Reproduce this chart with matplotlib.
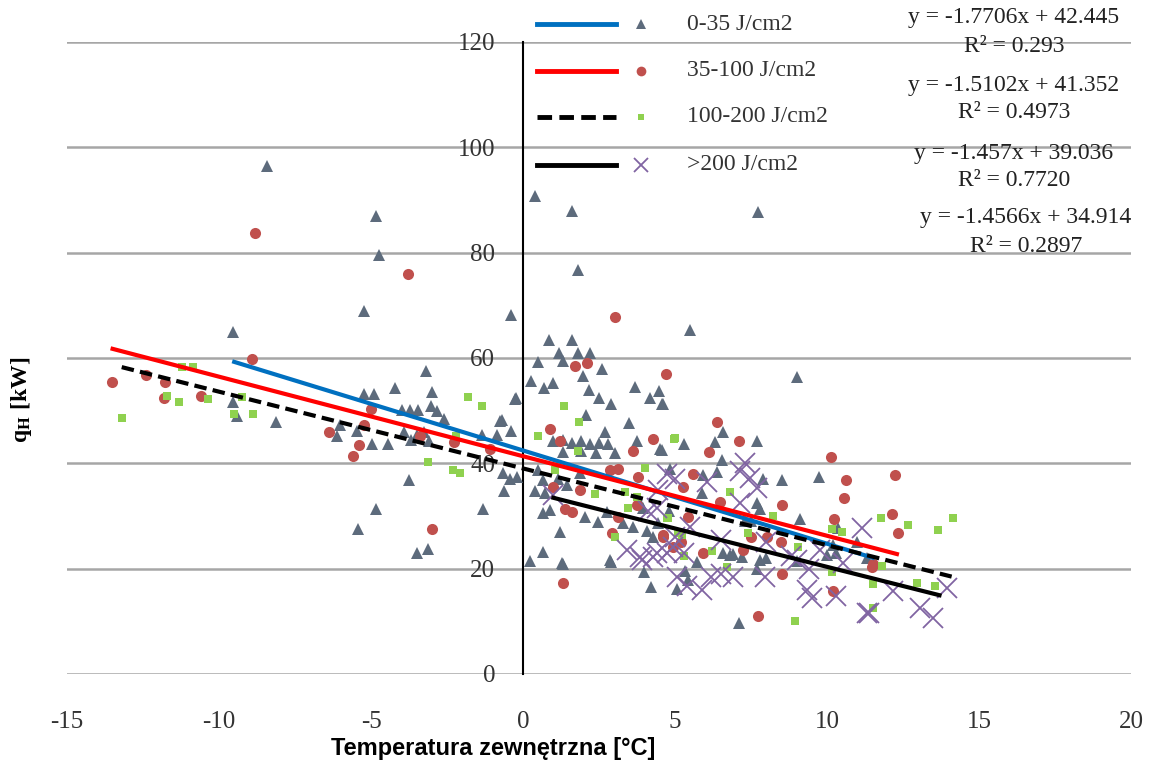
import numpy as np
import matplotlib.pyplot as plt
from matplotlib.lines import Line2D

plt.rcParams['mathtext.fontset'] = 'stix'
plt.rcParams['axes.unicode_minus'] = False

# 0-35 J/cm2 (triangles)
t1_x = [-8.43, -4.84, -4.73, -5.23, -0.40, -9.53, -3.19, -4.21, -3.0, -0.26, -5.23, -4.9, -9.53, -3.04,
        -2.84, -2.6, -3.99, -3.72, -3.44, -9.42, -8.13, -0.70, -0.40, -0.87, -1.36, -6.02, -6.11, -5.47,
        -4.98, -4.43, -3.9, -3.7, -3.5, -3.25, -3.08, -3.74, -0.65, -0.43, -0.19, -0.63, -1.33, -4.84,
        -5.42, -3.5, -3.12, -0.76,
        0.39, 1.6, 7.74, 1.82, 5.49, 0.87, 1.6, 1.19, 1.82, 2.2, 0.5, 1.3, 1.98, 2.59, 0.25, 0.69, 1.0,
        2.18, 3.68, 4.48, -0.23, 9.0,
        2.5, 2.88, 4.18, 4.56, 2.07, 3.5, 2.7, 1.0, 1.3, 1.6, 1.9, 2.2, 2.5, 2.8, 3.74, 4.5, 3.03, 1.3,
        1.9, 2.4, 0.5, 0.67, 1.16, 1.44, 1.88, 0.39, 0.72, 0.67, 0.89, 2.04, 2.48, 2.75, 1.22, 0.67,
        1.27, 0.23, 2.86, 4.07, 4.29, 3.85, 3.96, 3.3, 3.63, 4.45, 4.84,
        1.3, 2.89, 3.98, 4.2, 5.08, 5.33, 5.44, 5.73,
        7.12, 7.8, 6.59, 6.81, 7.69,
        6.59, 6.32, 7.69, 5.3, 4.56, 6.54, 8.51, 9.75, 5.93, 6.37, 7.9, 7.69, 7.8, 5.9, 9.1, 10.0, 10.3,
        7.3, 7.5, 6.9, 7.2, 8.0, 9.0, 4.8, 4.6,
        10.36, 10.2, 11.0, 11.3]
t1_y = [96.4, 87.0, 79.6, 68.9, 68.2, 65.0, 57.5, 54.3, 53.6, 52.2, 53.1, 53.1, 51.6, 50.9,
        49.9, 48.4, 50.2, 50.2, 50.2, 48.9, 47.8, 48.2, 46.2, 45.3, 45.3, 47.2, 45.1, 46.2,
        43.7, 43.6, 46.0, 44.5, 45.4, 46.0, 44.3, 36.9, 38.1, 37.1, 37.4, 34.8, 31.4, 31.4,
        27.5, 23.0, 23.7, 48.1,
        90.7, 87.9, 87.7, 76.7, 65.4, 63.5, 63.5, 61.0, 61.0, 61.0, 59.3, 59.4, 56.6, 57.9, 55.7, 54.3, 55.3,
        53.9, 54.4, 53.8, 52.5, 56.4,
        52.5, 51.3, 52.4, 51.3, 49.2, 47.6, 45.9, 44.2, 44.5, 43.8, 44.2, 43.6, 43.8, 43.6, 44.3, 42.8, 42.0, 42.2,
        42.3, 41.9, 38.7, 36.8, 37.1, 35.8, 38.1, 34.7, 34.3, 30.5, 31.1, 29.9, 28.9, 30.8, 27.0, 23.1,
        21.1, 21.4, 21.7, 27.2, 26.1, 32.5, 31.6, 28.6, 28.0, 28.6, 39.0,
        20.8, 21.2, 19.3, 16.5, 16.2, 19.5, 17.9, 21.2,
        9.7, 21.7, 22.9, 22.6, 20.0,
        45.9, 44.0, 44.3, 43.6, 42.5, 40.6, 36.8, 37.4, 37.7, 38.4, 37.0, 32.4, 31.4, 34.3, 29.5, 22.6, 23.0,
        29.0, 29.0, 22.7, 22.3, 22.0, 21.5, 31.0, 51.3,
        27.7, 24.5, 25.0, 22.0]

# 35-100 J/cm2 (circles)
t2_x = [-8.82, -3.79, -8.93, -13.53, -12.4, -11.78, -11.81, -10.59, -5.01, -6.37, -5.23, -5.38, -5.6,
        -3.39, -2.27, -1.09, -3.0,
        3.03, 1.71, 2.1, 4.69,
        0.89, 1.22, 4.29, 3.63, 3.14, 2.86, 1.88, 1.38, 1.6, 1.0, 3.14, 3.79, 3.74, 2.92, 4.62, 4.95,
        1.3, 7.72, 8.51, 10.2, 5.93, 11.47,
        10.13, 10.62, 10.56, 12.24, 12.13, 12.32, 10.23, 11.52,
        6.39, 7.12, 6.13, 5.6, 5.27, 8.51, 6.48, 5.44, 8.02, 7.5, 8.5, 7.25, 4.61, 5.2]
t2_y = [83.8, 75.9, 59.8, 55.5, 56.8, 55.5, 52.5, 52.8, 50.3, 46.0, 47.2, 43.4, 41.3,
        45.1, 44.0, 42.8, 27.5,
        67.7, 58.5, 59.0, 56.9,
        46.5, 44.3, 44.6, 42.3, 39.0, 38.7, 34.9, 31.4, 30.8, 35.5, 29.9, 37.4, 32.1, 26.7, 26.1, 24.2,
        17.3, 11.0, 18.9, 15.7, 22.9, 20.4,
        41.2, 36.9, 33.5, 37.7, 30.3, 26.7, 29.4, 20.8,
        47.8, 44.2, 42.1, 37.9, 35.5, 32.1, 32.7, 29.9, 26.1, 26.0, 25.0, 23.6, 26.4, 25.0]

# 100-200 J/cm2 (squares)
t3_x = [-13.2, -11.23, -10.87, -11.7, -11.31, -10.35, -9.25, -9.5, -8.89, -1.8, -1.36, -3.12, -2.29,
        -2.07, -2.2,
        1.35, 1.84, 0.5, 1.82, 5.0, 4.01, 1.05, 2.37, 3.36, 3.74, 3.46, 4.78, 3.03, 5.1,
        8.95, 6.21, 9.06, 10.15, 11.52, 6.7,
        11.77, 12.65, 13.64, 14.13, 10.15, 10.5, 12.97, 13.55, 11.52, 11.8,
        4.97, 6.81, 8.23, 4.73, 5.22, 7.41, 5.3]
t3_y = [48.6, 58.3, 58.2, 52.8, 51.6, 52.3, 52.6, 49.4, 49.4, 52.6, 50.9, 40.2, 38.8,
        38.1, 45.2,
        50.9, 47.8, 45.1, 42.3, 44.9, 39.2, 38.7, 34.2, 34.6, 33.6, 31.6, 29.6, 26.1, 26.7,
        10.1, 23.3, 24.1, 19.3, 12.6, 20.4,
        29.7, 28.3, 27.4, 29.7, 27.6, 27.0, 17.2, 16.8, 17.0, 20.6,
        44.7, 34.6, 30.0, 29.6, 26.4, 26.7, 22.5]

# >200 J/cm2 (crosses)
t4_x = [1.0, 4.73, 5.0, 4.45, 4.1, 4.4, 3.41, 3.85, 4.29, 4.73, 4.95, 3.9, 4.4, 5.06, 5.39,
        5.88, 6.2, 6.5, 6.9, 7.96, 9.33, 9.5, 10.3, 11.3,
        11.14, 13.94, 13.06, 13.5, 11.39, 12.18, 10.54,
        7.3, 7.14, 7.47, 7.69, 6.04, 7.14, 9.77, 9.0,
        5.5, 5.0, 5.3, 6.5, 8.0, 8.8, 9.4]
t4_y = [34.0, 38.0, 37.1, 34.9, 31.0, 31.5, 23.6, 22.3, 22.3, 22.9, 24.2, 21.7, 22.9, 18.5, 16.7,
        16.0, 18.5, 18.9, 18.5, 18.5, 16.0, 14.5, 14.8, 11.6,
        27.8, 16.3, 12.6, 10.7, 11.6, 15.7, 21.1,
        40.1, 38.5, 37.2, 35.3, 36.5, 32.4, 23.6, 21.6,
        28.0, 26.0, 23.0, 25.5, 25.0, 22.5, 20.0]

labels = ['0-35 J/cm2', '35-100 J/cm2', '100-200 J/cm2', '>200 J/cm2']
slopes = [-1.7706, -1.5102, -1.457, -1.4566]
intercepts = [42.445, 41.352, 39.036, 34.914]
r2 = ['0.293', '0.4973', '0.7720', '0.2897']
fit_ranges = [(-9.5, 11.5), (-13.5, 12.3), (-13.2, 14.1), (1.0, 13.7)]

pt_colors = ['#5d6b7c', '#c0504d', '#8fd14f', '#8064a2']
line_colors = ['#0070c0', '#ff0000', 'black', 'black']
line_styles = ['-', '-', '--', '-']
markers = ['^', 'o', 's', 'x']
msizes = [8, 8, 6, 15]

W, H = 1151, 768
fig = plt.figure(figsize=(W / 100, H / 100), dpi=100)
ax = fig.add_axes([67 / W, 1 - 674 / H, (1131 - 67) / W, (674 - 42) / H])

series = [(t1_x, t1_y), (t2_x, t2_y), (t3_x, t3_y), (t4_x, t4_y)]
for i, (sx, sy) in enumerate(series):
    if markers[i] == 'x':
        ax.plot(sx, sy, 'x', color=pt_colors[i], ms=msizes[i], mew=1.3, zorder=3)
    else:
        ax.plot(sx, sy, markers[i], color=pt_colors[i], ms=msizes[i], mew=0, zorder=3)

for i in range(4):
    xs = np.array(fit_ranges[i])
    ax.plot(xs, slopes[i] * xs + intercepts[i], color=line_colors[i], ls=line_styles[i],
            lw=3, zorder=4, dashes=(3, 1.5) if line_styles[i] == '--' else (None, None))

ax.set_xlim(-15, 20)
ax.set_ylim(0, 120)
ax.set_xticks(range(-15, 21, 5))
ax.set_yticks(range(0, 121, 20))
for y in range(0, 121, 20):
    ax.axhline(y, color='#a6a6a6', lw=1.8, zorder=1)
for s in ['top', 'right', 'bottom']:
    ax.spines[s].set_visible(False)
ax.spines['left'].set_position(('data', 0))
ax.spines['left'].set_linewidth(1.5)
ax.spines['left'].set_zorder(2)
ax.tick_params(axis='both', length=0, labelsize=18)
ax.tick_params(axis='x', pad=27)
ax.tick_params(axis='y', pad=20)
for lab in ax.get_xticklabels() + ax.get_yticklabels():
    lab.set_fontfamily('Liberation Serif')
    lab.set_color('#333333')

fig.text(493 / W, 1 - 748 / H, 'Temperatura zewnętrzna [°C]', fontsize=17, fontweight='bold',
         family=['Liberation Sans Narrow', 'Liberation Sans'], ha='center', va='center')
fig.text(22 / W, 1 - 400 / H, r'q$_\mathbf{H}$ [kW]', rotation=90, fontsize=17, fontweight='bold',
         family='Liberation Serif', ha='center', va='center')

# legend, drawn by hand
rows_y = [24, 71, 117, 165]
for i in range(4):
    yy = 1 - rows_y[i] / H
    fig.add_artist(Line2D([537 / W, 616 / W], [yy, yy], color=line_colors[i], lw=3.5,
                          ls=line_styles[i], dashes=(3, 1.5) if line_styles[i] == '--' else (None, None)))
    if markers[i] == 'x':
        fig.add_artist(Line2D([641 / W], [yy], marker='x', color=pt_colors[i], ms=10, mew=1.3))
    else:
        fig.add_artist(Line2D([641 / W], [yy], marker=markers[i], color=pt_colors[i],
                              ms=msizes[i] - 1, mew=0))
    fig.text(687 / W, yy, labels[i], fontsize=17, family='Liberation Serif', va='center',
             color='#333333')

# trend line equations
eq_rows = [(18, 47), (85, 112), (153, 180), (218, 247)]
eq_cx = [1014, 1014, 1014, 1026]
for i in range(4):
    fig.text(eq_cx[i] / W, 1 - eq_rows[i][0] / H, 'y = %sx + %s' % (slopes[i], intercepts[i]),
             fontsize=17, family='Liberation Serif', ha='center', va='center', color='#222222')
    fig.text(eq_cx[i] / W, 1 - eq_rows[i][1] / H, 'R² = %s' % r2[i],
             fontsize=17, family='Liberation Serif', ha='center', va='center', color='#222222')

fig.savefig('out.png', dpi=100)
